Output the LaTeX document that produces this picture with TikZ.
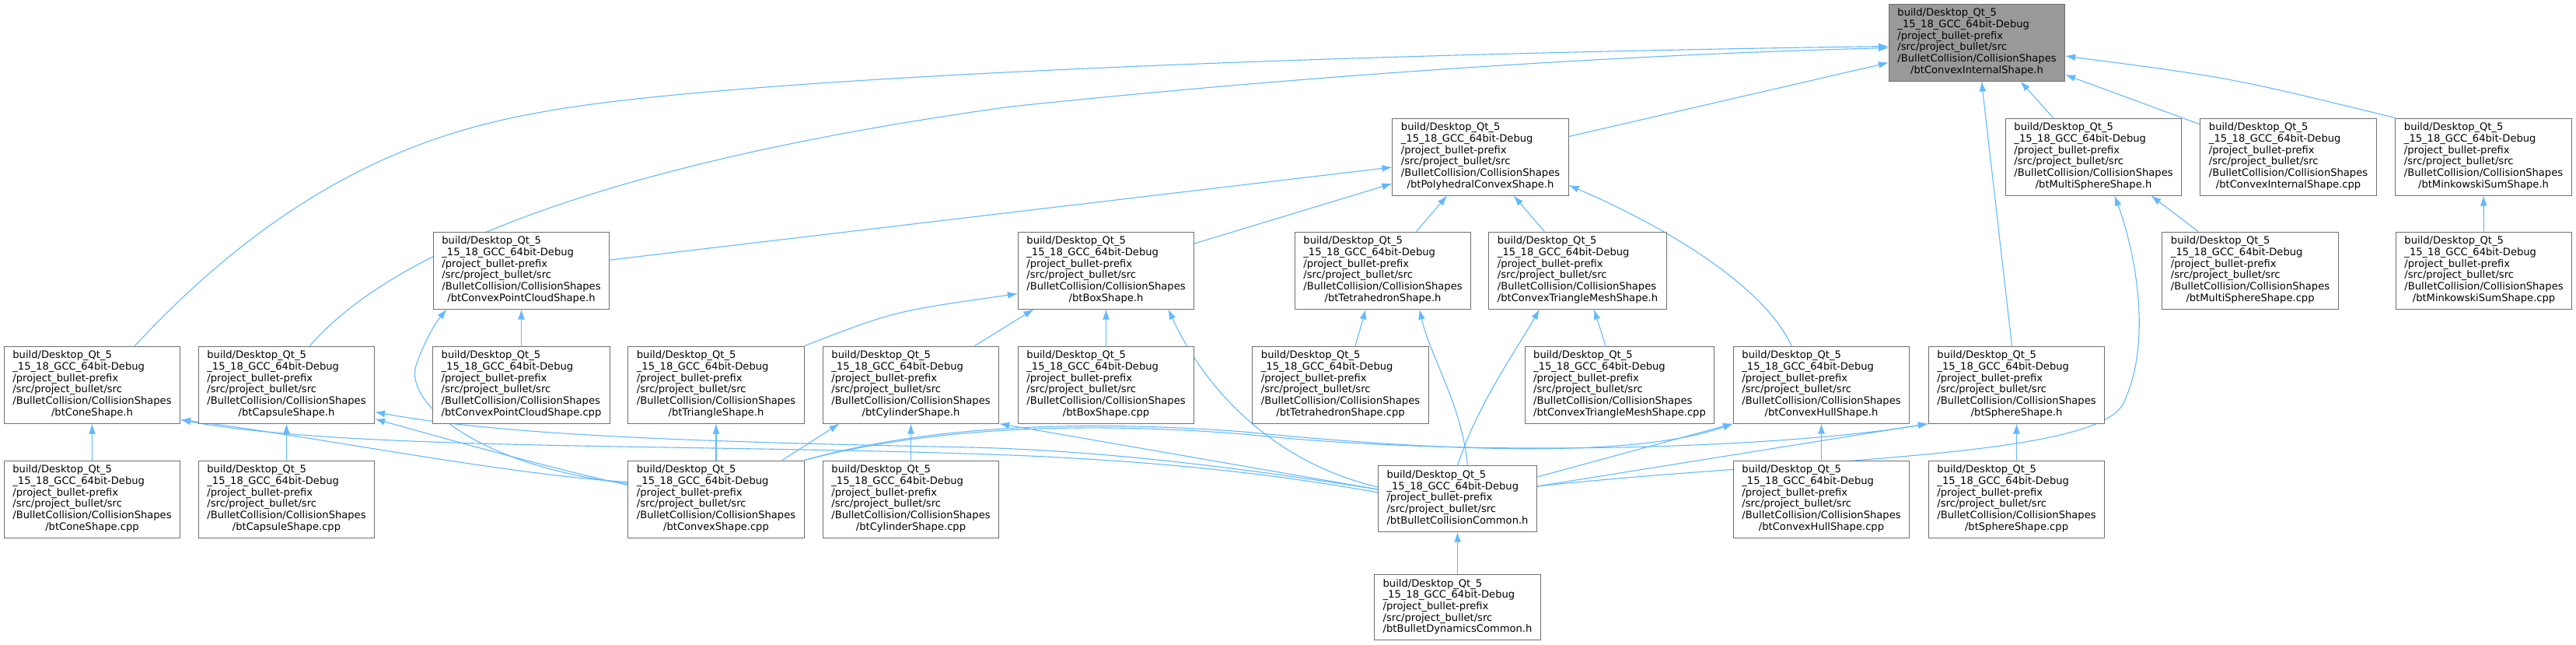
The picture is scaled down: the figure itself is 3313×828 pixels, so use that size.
\documentclass[tikz,border=0pt]{standalone}
\usepackage{fontspec}
\setmainfont{DejaVu Sans}
\usetikzlibrary{arrows.meta,backgrounds}
\definecolor{depblue}{HTML}{63B8FF}
\definecolor{boxgray}{HTML}{707070}
\definecolor{focusgray}{HTML}{999999}

% etichette dei file (prefisso comune)
\newcommand{\shapefile}[1]{\begin{tabular}{@{}l@{}}build/Desktop\_Qt\_5\\\_15\_18\_GCC\_64bit-Debug\\/project\_bullet-prefix\\/src/project\_bullet/src\\/BulletCollision/CollisionShapes\\\multicolumn{1}{@{}c@{}}{/#1}\end{tabular}}
\newcommand{\srcfile}[1]{\begin{tabular}{@{}l@{}}build/Desktop\_Qt\_5\\\_15\_18\_GCC\_64bit-Debug\\/project\_bullet-prefix\\/src/project\_bullet/src\\/#1\end{tabular}}

\begin{document}
\begin{tikzpicture}[x=1pt, y=-1pt,
  filebox/.style={draw=boxgray, line width=1pt, fill=white, inner xsep=11pt, inner ysep=5.4pt, font=\fontsize{13.1}{14.7}\selectfont},
  focusbox/.style={filebox, fill=focusgray},
  dep/.style={draw=depblue, line width=1.1pt, -{Latex[length=13pt,width=9pt]}}]
\useasboundingbox (0,0) rectangle (3313,828);

% Riga 0: file di partenza
\node[focusbox] (tgt) at (2542.5,54.5) {\shapefile{btConvexInternalShape.h}};

% Riga 1
\foreach \nm/\x/\fl in {poly/1904/btPolyhedralConvexShape.h, msh/2692.5/btMultiSphereShape.h,
  cicpp/2943/btConvexInternalShape.cpp, mkh/3194/btMinkowskiSumShape.h}{
  \node[filebox] (\nm) at (\x,201.5) {\shapefile{\fl}};
}

% Riga 2
\foreach \nm/\x/\fl in {cpch/670.5/btConvexPointCloudShape.h, boxh/1422.5/btBoxShape.h,
  teth/1778.5/btTetrahedronShape.h, ctmh/2029/btConvexTriangleMeshShape.h,
  mscpp/2894/btMultiSphereShape.cpp, mkcpp/3194.5/btMinkowskiSumShape.cpp}{
  \node[filebox] (\nm) at (\x,347.5) {\shapefile{\fl}};
}

% Riga 3
\foreach \nm/\x/\fl in {coneh/118.5/btConeShape.h, caph/368.5/btCapsuleShape.h,
  cpccpp/670.5/btConvexPointCloudShape.cpp, trih/921/btTriangleShape.h,
  cylh/1171.5/btCylinderShape.h, boxcpp/1422.5/btBoxShape.cpp,
  tetcpp/1724/btTetrahedronShape.cpp, ctmcpp/2083/btConvexTriangleMeshShape.cpp,
  chh/2342.5/btConvexHullShape.h, sphh/2593.5/btSphereShape.h}{
  \node[filebox] (\nm) at (\x,494.5) {\shapefile{\fl}};
}

% Riga 4
\foreach \nm/\x/\fl in {conecpp/118.5/btConeShape.cpp, capcpp/368.5/btCapsuleShape.cpp,
  cscpp/921/btConvexShape.cpp, cylcpp/1171.5/btCylinderShape.cpp,
  chcpp/2342.5/btConvexHullShape.cpp, sphcpp/2593.5/btSphereShape.cpp}{
  \node[filebox] (\nm) at (\x,641.5) {\shapefile{\fl}};
}
\node[filebox] (bcc) at (1874.5,641) {\srcfile{btBulletCollisionCommon.h}};

% Riga 5
\node[filebox] (bdc) at (1874.5,780.5) {\srcfile{btBulletDynamicsCommon.h}};

\begin{scope}[on background layer]
% Collegamenti diritti
\foreach \a/\b in {poly/tgt, cicpp/tgt, cpch/poly, boxh/poly, teth/poly, ctmh/poly,
  cpccpp/cpch, boxcpp/boxh, conecpp/coneh, capcpp/caph, cscpp/trih, cylcpp/cylh,
  chcpp/chh, sphcpp/sphh, mkcpp/mkh, bdc/bcc}{
  \draw[dep] (\a) -- (\b);
}

% Verso btConvexInternalShape.h
\draw[dep] ([xshift=55pt]coneh.north) .. controls (400,200) and (600,160) .. (720,140)
  .. controls (1000,95) and (1800,68) .. ([yshift=-5pt]tgt.west);
\draw[dep] ([xshift=30pt]caph.north) .. controls (480,350) and (700,220) .. (1300,137)
  .. controls (1700,95) and (2100,70) .. ([yshift=-7pt]tgt.west);
\draw[dep] ([xshift=-6pt]sphh.north) -- ([xshift=6pt]tgt.south);
\draw[dep] ([xshift=-52pt]msh.north) -- ([xshift=56pt]tgt.south);
\draw[dep] (mkh.north west) .. controls (2870,100) .. ([yshift=-17.5pt]tgt.east);

% Verso btPolyhedralConvexShape.h
\draw[dep] ([xshift=-38.5pt]chh.north) .. controls (2270,370) and (2150,295) .. ([yshift=-36.5pt]poly.east);

% Verso btConvexPointCloudShape.h
\draw[dep] ([yshift=20pt]cscpp.west) .. controls (620,600) and (520,520) .. (535,470)
  .. controls (545,440) and (560,415) .. ([xshift=-96pt]cpch.south);

% Verso btBoxShape.h
\draw[dep] (trih.north east) .. controls (1150,400) .. ([yshift=-30pt]boxh.west);
\draw[dep] ([xshift=82pt]cylh.north) -- ([xshift=-93pt]boxh.south);
\draw[dep] ([yshift=15pt]bcc.west) .. controls (1620,590) and (1540,480) .. ([xshift=80pt]boxh.south);

% Verso btTetrahedronShape.h e btConvexTriangleMeshShape.h
\draw[dep] ([xshift=19pt]tetcpp.north) -- ([xshift=-22pt]teth.south);
\draw[dep] ([xshift=13pt]bcc.north) .. controls (1880,520) and (1840,460) .. ([xshift=47pt]teth.south);
\draw[dep] ([xshift=-18pt]ctmcpp.north) -- ([xshift=21pt]ctmh.south);
\draw[dep] (bcc.north) .. controls (1900,520) and (1950,450) .. ([xshift=-49pt]ctmh.south);

% Verso btMultiSphereShape.h
\draw[dep] ([xshift=-67pt]mscpp.north) -- ([xshift=74pt]msh.south);
\draw[dep] ([yshift=16pt]bcc.east) .. controls (2300,590) and (2690,590) .. (2730,520)
  .. controls (2770,440) and (2745,320) .. ([xshift=27pt]msh.south);

% Verso btConeShape.h e btCapsuleShape.h
\draw[dep] ([yshift=22pt]cscpp.west) .. controls (650,610) and (400,560) .. ([yshift=-45pt]coneh.east);
\draw[dep] ([yshift=8pt]bcc.west) .. controls (1700,620) and (1550,595) .. (1300,585)
  .. controls (900,570) and (450,580) .. ([yshift=-45pt]coneh.east);
\draw[dep] ([yshift=18pt]cscpp.west) .. controls (700,600) and (560,560) .. ([yshift=-44pt]caph.east);
\draw[dep] ([yshift=12pt]bcc.west) .. controls (1650,610) and (1450,580) .. (1250,575)
  .. controls (900,568) and (650,560) .. ([yshift=-35pt]caph.east);

% Verso btCylinderShape.h
\draw[dep] ([xshift=85pt]cscpp.north) -- ([xshift=-92pt]cylh.south);
\draw[dep] ([yshift=12pt]bcc.west) -- (cylh.south east);

% Verso btConvexHullShape.h e btSphereShape.h
\draw[dep] ([yshift=28pt]bcc.east) -- (chh.south west);
\draw[dep] (cscpp.north east) .. controls (1200,545) and (1400,540) .. (1600,555)
  .. controls (1850,580) and (2100,590) .. (chh.south west);
\draw[dep] ([yshift=16pt]bcc.east) -- (sphh.south west);
\draw[dep] (cscpp.north east) .. controls (1200,548) and (1400,542) .. (1600,558)
  .. controls (1900,590) and (2300,575) .. (sphh.south west);
\end{scope}

\end{tikzpicture}
\end{document}
